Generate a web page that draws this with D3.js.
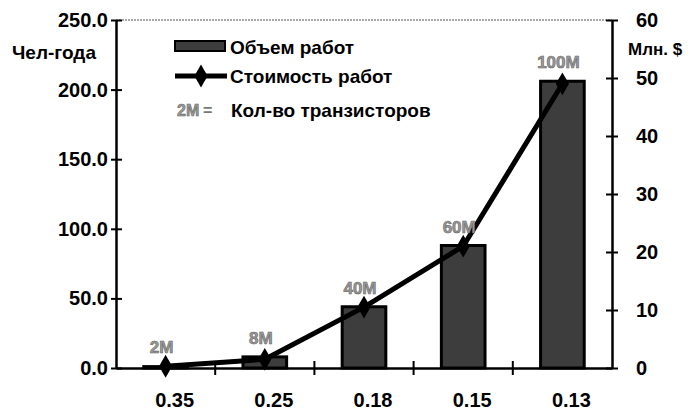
<!DOCTYPE html>
<html>
<head>
<meta charset="utf-8">
<script src="https://cdn.jsdelivr.net/npm/d3@7"></script>
<style>
  body { margin: 0; background: #fff; }
  svg text { font-family: "Liberation Sans", Arial, sans-serif; font-weight: bold; }
</style>
</head>
<body>
<div id="chart"></div>
<script>
// chart data
const categories = ['0.35', '0.25', '0.18', '0.15', '0.13'];
const workVolume = [1, 8, 44, 88, 206];        // Чел-года (bars, left axis)
const workCost = [0.3, 1.5, 10.5, 21, 49];      // Млн. $ (line, right axis)
const transistors = ['2M', '8M', '40M', '60M', '100M'];
const leftTicks = [0, 50, 100, 150, 200, 250];
const rightTicks = [0, 10, 20, 30, 40, 50, 60];

const width = 690;
const height = 412;
const margin = { top: 20, right: 78, bottom: 44, left: 116 };

const svg = d3.select('#chart')
  .append('svg')
  .attr('width', width)
  .attr('height', height);

const x = d3.scaleBand()
  .domain(categories)
  .range([margin.left, width - margin.right])
  .paddingInner(0.56)
  .paddingOuter(0.28);

const yLeft = d3.scaleLinear()
  .domain([0, 250])
  .range([height - margin.bottom, margin.top]);

const yRight = d3.scaleLinear()
  .domain([0, 60])
  .range([height - margin.bottom, margin.top]);

const step = x.step();
const center = d => x(d) + x.bandwidth() / 2;

// top border (thin dotted)
svg.append('line')
  .attr('x1', margin.left).attr('x2', width - margin.right)
  .attr('y1', margin.top).attr('y2', margin.top)
  .attr('stroke', '#555').attr('stroke-width', 1)
  .attr('stroke-dasharray', '2,1');

// bars
svg.selectAll('.bar')
  .data(categories)
  .enter().append('rect')
  .attr('class', 'bar')
  .attr('x', d => x(d))
  .attr('width', x.bandwidth())
  .attr('y', (d, i) => yLeft(workVolume[i]))
  .attr('height', (d, i) => yLeft(0) - yLeft(workVolume[i]))
  .attr('fill', '#3d3d3d')
  .attr('stroke', '#000')
  .attr('stroke-width', 3);

// left axis
const axL = svg.append('g')
  .attr('transform', `translate(${margin.left},0)`)
  .call(d3.axisLeft(yLeft).tickValues(leftTicks).tickFormat(d3.format('.1f')).tickSizeOuter(0));
axL.selectAll('.tick line').attr('x1', -5).attr('x2', 6);

// right axis
const axR = svg.append('g')
  .attr('transform', `translate(${width - margin.right},0)`)
  .call(d3.axisRight(yRight).tickValues(rightTicks).tickSizeOuter(0));
axR.selectAll('.tick line').attr('x1', -6).attr('x2', 6);
axR.selectAll('.tick text').attr('x', 24);

// bottom axis
const axB = svg.append('g')
  .attr('transform', `translate(0,${height - margin.bottom})`)
  .call(d3.axisBottom(x).tickSize(0).tickSizeOuter(0));
axB.selectAll('.tick text').attr('y', 25).attr('dx', 9);
axB.selectAll('.sep')
  .data(categories.slice(1))
  .enter().append('line')
  .attr('x1', d => x(d) - (step - x.bandwidth()) / 2)
  .attr('x2', d => x(d) - (step - x.bandwidth()) / 2)
  .attr('y1', -7).attr('y2', 7)
  .attr('stroke', '#000').attr('stroke-width', 2);

[axL, axR, axB].forEach(a => {
  a.select('.domain').attr('stroke', '#000').attr('stroke-width', 2.5);
  a.selectAll('.tick line').attr('stroke', '#000').attr('stroke-width', 2);
  a.selectAll('.tick text').attr('fill', '#000').style('font-size', '20px');
});
axL.selectAll('.tick text').attr('x', -8);

// cost line
const line = d3.line()
  .x((d, i) => center(categories[i]))
  .y(d => yRight(d));

svg.append('path')
  .datum(workCost)
  .attr('d', line)
  .attr('fill', 'none')
  .attr('stroke', '#000')
  .attr('stroke-width', 5);

const diamond = d3.symbol().type(d3.symbolDiamond).size(150);
svg.selectAll('.pt')
  .data(workCost)
  .enter().append('path')
  .attr('class', 'pt')
  .attr('transform', (d, i) => `translate(${center(categories[i])},${yRight(d)})`)
  .attr('d', diamond)
  .attr('fill', '#000');

// transistor count labels
svg.selectAll('.tlabel')
  .data(transistors)
  .enter().append('text')
  .attr('class', 'tlabel')
  .attr('x', (d, i) => center(categories[i]) - 4)
  .attr('y', (d, i) => Math.min(yLeft(workVolume[i]), yRight(workCost[i])) - 13)
  .attr('text-anchor', 'middle')
  .attr('fill', '#9a9a9a')
  .attr('stroke', '#666')
  .attr('stroke-width', 0.6)
  .style('font-size', '17px')
  .text(d => d);

// axis titles
svg.append('text')
  .attr('x', 12).attr('y', 59)
  .style('font-size', '19px')
  .text('Чел-года');

svg.append('text')
  .attr('x', 628).attr('y', 55)
  .style('font-size', '17px')
  .text('Млн. $');

// legend
const leg = svg.append('g').attr('transform', 'translate(175,0)');
leg.append('rect')
  .attr('x', 0).attr('y', 41).attr('width', 50).attr('height', 10)
  .attr('fill', '#3d3d3d').attr('stroke', '#000').attr('stroke-width', 2);
leg.append('text').attr('x', 55).attr('y', 54).style('font-size', '19px').text('Объем работ');

leg.append('line')
  .attr('x1', 0).attr('x2', 52).attr('y1', 76).attr('y2', 76)
  .attr('stroke', '#000').attr('stroke-width', 5);
leg.append('path')
  .attr('transform', 'translate(26,76)')
  .attr('d', diamond)
  .attr('fill', '#000');
leg.append('text').attr('x', 55).attr('y', 83).style('font-size', '19px').text('Стоимость работ');

leg.append('text').attr('x', 2).attr('y', 116)
  .attr('fill', '#9a9a9a').attr('stroke', '#666').attr('stroke-width', 0.6)
  .style('font-size', '16px').text(transistors[0]);
leg.append('text').attr('x', 28).attr('y', 116).attr('fill', '#777').style('font-size', '16px').text('=');
leg.append('text').attr('x', 56).attr('y', 117).style('font-size', '19px').text('Кол-во транзисторов');
</script>
</body>
</html>
